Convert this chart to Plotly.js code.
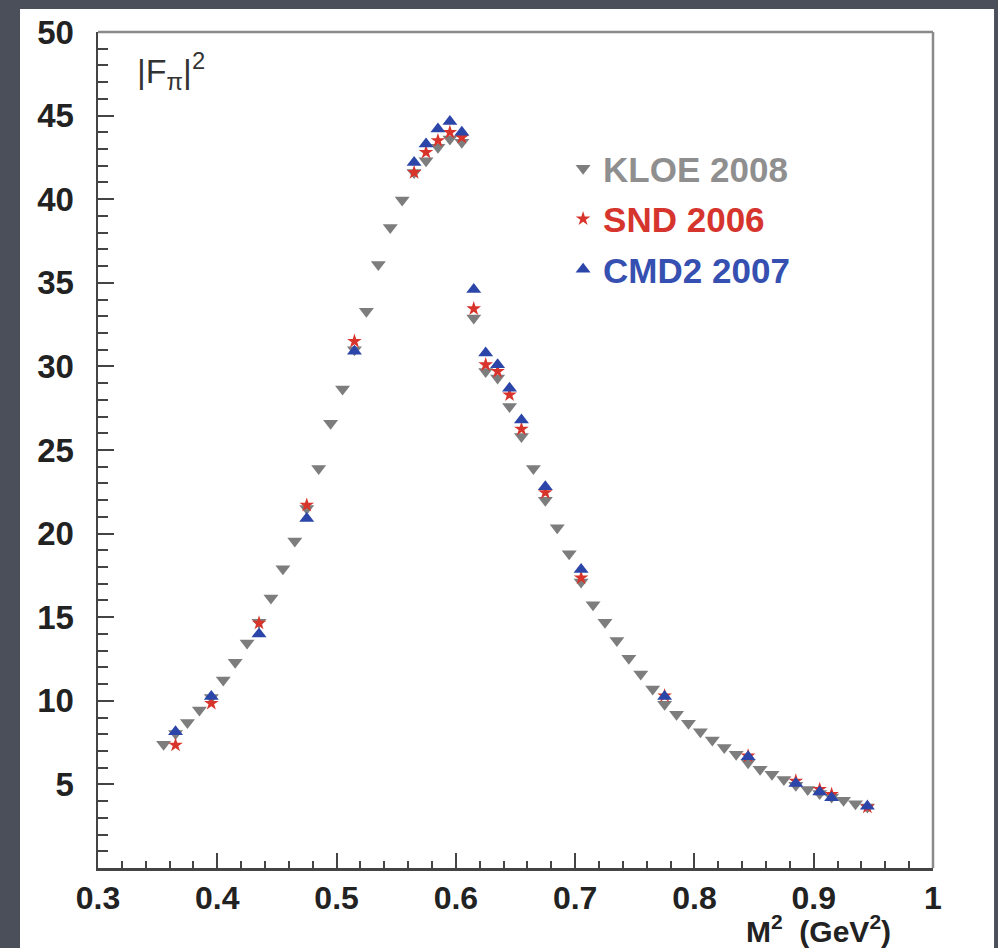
<!DOCTYPE html>
<html>
<head>
<meta charset="utf-8">
<script src="https://cdn.plot.ly/plotly-3.0.1.min.js"></script>
<style>
html,body{margin:0;padding:0;background:#4a4f5a;}
#chart{width:998px;height:948px;}
</style>
</head>
<body>
<div id="chart"></div>
<script>
// ---- data ----
const kloeX = [0.355,0.365,0.375,0.385,0.395,0.405,0.415,0.425,0.435,0.445,
               0.455,0.465,0.475,0.485,0.495,0.505,0.515,0.525,0.535,0.545,
               0.555,0.565,0.575,0.585,0.595,0.605,0.615,0.625,0.635,0.645,
               0.655,0.665,0.675,0.685,0.695,0.705,0.715,0.725,0.735,0.745,
               0.755,0.765,0.775,0.785,0.795,0.805,0.815,0.825,0.835,0.845,
               0.855,0.865,0.875,0.885,0.895,0.905,0.915,0.925,0.935,0.945];
const kloeY = [7.4,8.05,8.7,9.45,10.2,11.25,12.3,13.45,14.7,16.15,
               17.9,19.55,21.5,23.9,26.6,28.65,31.0,33.3,36.1,38.3,
               39.95,41.6,42.3,43.1,43.6,43.4,32.9,29.7,29.3,27.6,
               25.8,23.9,22.0,20.35,18.8,17.1,15.75,14.7,13.6,12.55,
               11.6,10.7,9.8,9.2,8.65,8.15,7.65,7.2,6.8,6.3,
               5.9,5.6,5.3,4.95,4.7,4.45,4.25,4.05,3.85,3.65];

const sndX = [0.365,0.395,0.435,0.475,0.515,0.565,0.575,0.585,0.595,0.605,
              0.615,0.625,0.635,0.645,0.655,0.675,0.705,0.775,0.845,0.885,
              0.905,0.915,0.945];
const sndY = [7.35,9.85,14.65,21.7,31.5,41.6,42.8,43.5,44.0,43.7,
              33.45,30.1,29.7,28.3,26.25,22.45,17.35,10.3,6.7,5.2,
              4.7,4.4,3.65];

const cmdX = [0.365,0.395,0.435,0.475,0.515,0.565,0.575,0.585,0.595,0.605,
              0.615,0.625,0.635,0.645,0.655,0.675,0.705,0.775,0.845,0.885,
              0.905,0.915,0.945];
const cmdY = [8.15,10.25,14.0,20.9,30.9,42.2,43.3,44.2,44.65,44.0,
              34.6,30.8,30.1,28.7,26.8,22.8,17.85,10.25,6.65,5.05,
              4.55,4.2,3.7];

const seriesNames = ['KLOE 2008','SND 2006','CMD2 2007'];
const xTickVals = [0.3,0.4,0.5,0.6,0.7,0.8,0.9,1.0];
const xTickText = ['0.3','0.4','0.5','0.6','0.7','0.8','0.9','1'];
const yTickVals = [5,10,15,20,25,30,35,40,45,50];
const yTickText = ['5','10','15','20','25','30','35','40','45','50'];

// ---- styling ----
const cKloe = '#7d7d7d', cSnd = '#d9342b', cCmd = '#2b46a8';
const tKloe = '#8f8f8f', tSnd = '#d6352e', tCmd = '#3550b0';
const FONT = 'Liberation Sans, Arial, Helvetica, sans-serif';

const traces = [
  {x: kloeX, y: kloeY, type: 'scatter', mode: 'markers', name: '<span style="color:'+tKloe+'">'+seriesNames[0]+'</span>',
   legendgroup: 'a', marker: {symbol: 'triangle-down', size: 13, color: cKloe}},
  {x: sndX, y: sndY, type: 'scatter', mode: 'markers', name: '<span style="color:'+tSnd+'">'+seriesNames[1]+'</span>',
   legendgroup: 'b', marker: {symbol: 'star', size: 11, color: cSnd}},
  {x: cmdX, y: cmdY, type: 'scatter', mode: 'markers', name: '<span style="color:'+tCmd+'">'+seriesNames[2]+'</span>',
   legendgroup: 'c', marker: {symbol: 'triangle-up', size: 13, color: cCmd}}
];

const layout = {
  width: 998, height: 948,
  margin: {l: 98, r: 65, t: 32, b: 80},
  paper_bgcolor: '#4a4f5a',
  plot_bgcolor: '#ffffff',
  showlegend: true,
  legend: {
    x: 0.557, y: 0.872, xanchor: 'left', yanchor: 'top',
    bgcolor: 'rgba(0,0,0,0)', borderwidth: 0,
    font: {family: FONT, size: 35, color: '#333', weight: 'bold'},
    traceorder: 'grouped', tracegroupgap: 2
  },
  xaxis: {
    range: [0.3, 1.0], tickmode: 'array', tickvals: xTickVals, ticktext: xTickText,
    ticks: 'inside', ticklen: 15, tickwidth: 2, tickcolor: '#444',
    minor: {tickmode: 'linear', tick0: 0.3, dtick: 0.02, ticks: 'inside', ticklen: 7, tickwidth: 2, tickcolor: '#444', showgrid: false},
    showline: true, linecolor: '#444', linewidth: 2.5, mirror: false,
    showgrid: false, zeroline: false,
    tickfont: {family: FONT, size: 32, color: '#222', weight: 'bold'},
    fixedrange: true
  },
  yaxis: {
    range: [0, 50], tickmode: 'array', tickvals: yTickVals, ticktext: yTickText,
    ticks: 'inside', ticklen: 16, tickwidth: 2, tickcolor: '#444',
    minor: {tickmode: 'linear', tick0: 0, dtick: 1, ticks: 'inside', ticklen: 10, tickwidth: 2, tickcolor: '#444', showgrid: false},
    showline: true, linecolor: '#444', linewidth: 2.5, mirror: false,
    showgrid: false, zeroline: false,
    ticklabelstandoff: 15,
    tickfont: {family: FONT, size: 33, color: '#222', weight: 'bold'},
    fixedrange: true
  },
  shapes: [
    {type: 'rect', xref: 'paper', yref: 'paper', x0: -0.0934, x1: 1.0731, y0: -0.0958, y1: 1.0275,
     fillcolor: '#ffffff', line: {width: 0}, layer: 'below'},
    {type: 'line', xref: 'paper', yref: 'paper', x0: 0, x1: 1, y0: 1, y1: 1, line: {color: '#8a8a8a', width: 2.5}},
    {type: 'line', xref: 'paper', yref: 'paper', x0: 1, x1: 1, y0: 0, y1: 1, line: {color: '#8a8a8a', width: 2.5}}
  ],
  annotations: [
    {xref: 'paper', yref: 'paper', x: 0.044, y: 0.985, xanchor: 'left', yanchor: 'top', showarrow: false,
     text: '|F<sub>π</sub>|<sup>2</sup>', font: {family: FONT, size: 34, color: '#333'}},
    {xref: 'paper', yref: 'paper', x: 0.952, y: -0.073, xanchor: 'right', yanchor: 'middle', showarrow: false,
     text: 'M<sup>2</sup>  (GeV<sup>2</sup>)', font: {family: FONT, size: 30, color: '#222', weight: 'bold'}}
  ]
};

Plotly.newPlot('chart', traces, layout, {displayModeBar: false, staticPlot: true});
</script>
</body>
</html>
